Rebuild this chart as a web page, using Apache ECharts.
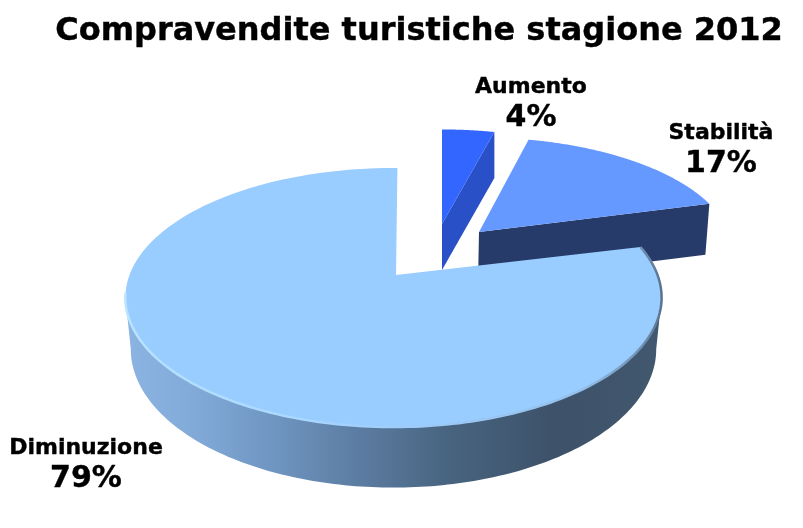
<!DOCTYPE html>
<html><head><meta charset="utf-8">
<style>html,body{margin:0;padding:0;background:#fff}#c{width:803px;height:528px}</style>
<script src="https://cdn.jsdelivr.net/npm/echarts@6/dist/echarts.min.js"></script>
</head><body><div id="c"></div>
<script>
var titleText = 'Compravendite turistiche stagione 2012';
var categories = ['Aumento', 'Stabilità', 'Diminuzione'];
var percentages = [4, 17, 79];

// projection of each slice: apex on screen, radius, depth, perspective, wall height
var K = 0.174;
var DEG = Math.PI/180;
var slices = [
  {ax:442, ay:224, R:246, A:111, t:46, rot:0, persp:false, top:'#3366ff', wall:'#2a50c8', lx:531, ly:[87,118]},
  {ax:479, ay:232, R:250, A:111, t:51, rot:-1*DEG, persp:false, top:'#6699ff', wall:'#263b69', lx:721, ly:[133,164]},
  {ax:393.5, ay:275, R:264, A:125.6, t:50, rot:1*DEG, persp:true, top:'#99ccff', lx:86, ly:[448,479]}
];
var total = percentages.reduce(function(a,b){return a+b;},0);
function cumBefore(i){var s=0;for(var j=0;j<i;j++)s+=percentages[j];return s;}
function proj(s,theta,r){
  var u=r*Math.sin(theta), v=-r*Math.cos(theta), w=1-K*v;
  return {x:s.ax+s.R*u/w, y:s.ay+s.A*v/w, w:w};
}
function arc(s,a,b,down,n){
  var pts=[];n=n||160;
  for(var i=0;i<=n;i++){
    var p=proj(s,a+(b-a)*i/n,1);
    if(down) pts.push([s.ax+(p.x-s.ax)*0.98,p.y+s.t/p.w]);
    else pts.push([p.x,p.y]);
  }
  return pts;
}
function renderItem(params,api){
  var i=params.dataIndex, s=slices[i];
  var a0=cumBefore(i)/total*2*Math.PI+s.rot;
  var a1=a0+api.value(0)/total*2*Math.PI;
  var ch=[];
  var topPts=arc(s,a0,a1,false);
  topPts.unshift([s.persp?s.ax+2.5:s.ax,s.ay]);
  if(s.persp){
    var w0=arc(s,100*DEG,260*DEG,false), w1=arc(s,100*DEG,260*DEG,true).reverse();
    ch.push({type:'polygon',shape:{points:w0.concat(w1)},style:{fill:new echarts.graphic.LinearGradient(0,0,1,0,[
      {offset:0,color:'#8cb4e2'},{offset:.12,color:'#83abd9'},{offset:.25,color:'#7299c6'},{offset:.45,color:'#5a7a9f'},
      {offset:.6,color:'#486480'},{offset:.8,color:'#3d5269'},{offset:1,color:'#42586f'}])}});
  } else {
    var end=proj(s,a1,1);
    ch.push({type:'polygon',shape:{points:[[s.ax,s.ay],[end.x,end.y],[end.x-(i==1?4:0),end.y+s.t],[s.ax-(i==1?1:0),s.ay+s.t]]},style:{fill:s.wall}});
  }
  ch.push({type:'polygon',shape:{points:topPts},style:{fill:s.top}});
  if(s.persp){
    ch.push({type:'polyline',shape:{points:arc(s,a0,262*DEG,false)},style:{fill:null,lineWidth:2.5,stroke:new echarts.graphic.LinearGradient(0,0,1,0,[
      {offset:0,color:'#b8e4ff'},{offset:.3,color:'#aad8ff'},{offset:.5,color:'#9fcdfb'},{offset:.85,color:'#93bfea'},{offset:.96,color:'#6f8fb0'},{offset:1,color:'#566f8a'}])}});
  }
  ch.push({type:'text',style:{text:categories[i],x:s.lx,y:s.ly[0],align:'center',verticalAlign:'middle',
    font:'bold 22px "DejaVu Sans"',fill:'#000',stroke:'#000',lineWidth:0.4}});
  ch.push({type:'text',style:{text:api.value(0)+'%',x:s.lx,y:s.ly[1],align:'center',verticalAlign:'middle',
    font:'bold 30px "DejaVu Sans"',fill:'#000',stroke:'#000',lineWidth:0.4}});
  return {type:'group',children:ch};
}
var chart=echarts.init(document.getElementById('c'),null,{renderer:'canvas'});
chart.setOption({
  animation:false,
  backgroundColor:'#fff',
  title:{text:titleText,left:414,top:11,textAlign:'center',textStyle:{fontFamily:'DejaVu Sans',fontWeight:'bold',fontSize:32,color:'#000',textBorderColor:'#000',textBorderWidth:0.4}},
  series:[{type:'custom',coordinateSystem:'none',renderItem:renderItem,
    data:percentages.map(function(v,i){return {name:categories[i],value:[v]};}),silent:true}]
});
</script></body></html>
